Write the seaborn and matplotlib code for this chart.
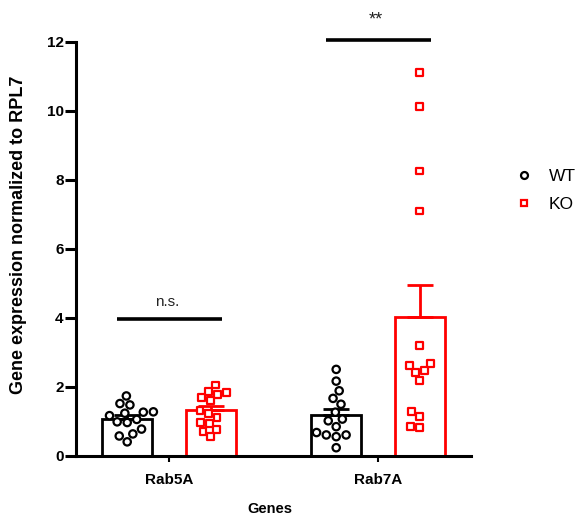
import numpy as np
import pandas as pd
import matplotlib
matplotlib.use("Agg")
import matplotlib.pyplot as plt
import seaborn as sns
from matplotlib.lines import Line2D

# ---- data ----
genes = ["Rab5A", "Rab7A"]
genotypes = ["WT", "KO"]
rab5a_wt = [1.74, 1.48, 1.52, 1.27, 1.24, 1.28, 1.17, 1.06, 0.97, 0.99, 0.78, 0.64, 0.58, 0.41]
rab5a_ko = [2.06, 1.84, 1.88, 1.79, 1.69, 1.60, 1.33, 1.24, 1.11, 0.97, 0.95, 0.77, 0.71, 0.56]
rab7a_wt = [2.51, 2.17, 1.89, 1.67, 1.50, 1.27, 1.07, 1.02, 0.85, 0.68, 0.61, 0.61, 0.56, 0.24]
rab7a_ko = [11.11, 10.14, 8.26, 7.10, 3.20, 2.67, 2.62, 2.41, 2.47, 2.18, 1.28, 1.14, 0.85, 0.83]
sig_labels = ["n.s.", "**"]
sig_heights = [3.97, 12.06]

rows = []
for gene, g, vals in [("Rab5A", "WT", rab5a_wt), ("Rab5A", "KO", rab5a_ko),
                      ("Rab7A", "WT", rab7a_wt), ("Rab7A", "KO", rab7a_ko)]:
    for v in vals:
        rows.append({"Gene": gene, "Genotype": g, "Value": v})
df = pd.DataFrame(rows)

palette = {"WT": "#000000", "KO": "#FF0000"}
font = "Liberation Sans"

sns.set_style("ticks")
plt.rcParams["font.family"] = [font, "DejaVu Sans"]
plt.rcParams.update({"text.color": "black", "axes.labelcolor": "black",
                     "xtick.color": "black", "ytick.color": "black",
                     "axes.edgecolor": "black"})

fig = plt.figure(figsize=(5.76, 5.17), dpi=100)
ax = fig.add_axes([76 / 576, 0.118, (471 - 76) / 576, 0.9188 - 0.118])

sns.barplot(data=df, x="Gene", y="Value", hue="Genotype", order=genes,
            hue_order=genotypes, palette=palette, errorbar=None, fill=False,
            width=0.8, gap=0.4, linewidth=2.0, legend=False, ax=ax, zorder=2)

# upward SEM error bars at bar positions
stats = df.groupby(["Gene", "Genotype"])["Value"].agg(["mean", "sem"])
for p in list(ax.patches):
    xc = p.get_x() + p.get_width() / 2
    gi = int(round(xc))
    g = "WT" if xc < gi else "KO"
    m, s = stats.loc[(genes[gi], g)]
    ax.errorbar(xc, m, yerr=[[0], [s]], color=palette[g], capsize=9.5,
                elinewidth=2.0, capthick=2.0, zorder=3)

# points
n_before = len(ax.collections)
for g, mk in [("WT", "o"), ("KO", "s")]:
    sns.swarmplot(data=df[df.Genotype == g], x="Gene", y="Value", hue="Genotype",
                  order=genes, hue_order=genotypes, palette=palette, dodge=True,
                  marker=mk, size=5.3 if mk == "o" else 4.9,
                  legend=False, ax=ax, zorder=4)
for coll in ax.collections[n_before:]:
    fc = coll.get_facecolors()
    if len(fc):
        coll.set_edgecolors(fc)
        coll.set_facecolors("white")
        coll.set_linewidths(1.6)

# significance bars
for i, (lab, h, fs, dy) in enumerate(zip(sig_labels, sig_heights, [11, 13], [0.38, 0.45])):
    ax.plot([i - 0.25, i + 0.255], [h, h], color="black", lw=2.6,
            solid_capstyle="butt", clip_on=False, zorder=5)
    ax.text(i - 0.01, h + dy, lab, ha="center", va="baseline",
            fontsize=fs, color="#222222", clip_on=False)

ax.set_xlim(-0.445, 1.445)
ax.set_ylim(0, 12)
ax.set_yticks(np.arange(0, 13, 2))
sns.despine(ax=ax)
for sp in ["left", "bottom"]:
    ax.spines[sp].set_linewidth(2.2)
ax.tick_params(axis="y", width=2.2, length=8, labelsize=11, pad=1)
ax.tick_params(axis="x", width=1.5, length=4, labelsize=11, pad=8)
for t in ax.get_xticklabels() + ax.get_yticklabels():
    t.set_fontweight("bold")
ax.set_ylabel("Gene expression normalized to RPL7", fontsize=13,
              fontweight="bold")
ax.yaxis.set_label_coords(-0.125, 0.535)
ax.set_xlabel("Genes", fontsize=10.5, fontweight="bold")
ax.xaxis.set_label_coords(0.49, -0.111)
ax.xaxis.label.set_va("top")

handles = [Line2D([], [], ls="", marker="o", mfc="white", mec="black", mew=1.6, ms=5),
           Line2D([], [], ls="", marker="s", mfc="white", mec="#FF0000", mew=1.6, ms=5)]
fig.legend(handles, genotypes, loc="center left", bbox_to_anchor=(0.868, 0.632),
           frameon=False, fontsize=12.5, handlelength=1.0, handletextpad=0.9,
           labelspacing=0.75)

fig.savefig("out.png", dpi=100)
